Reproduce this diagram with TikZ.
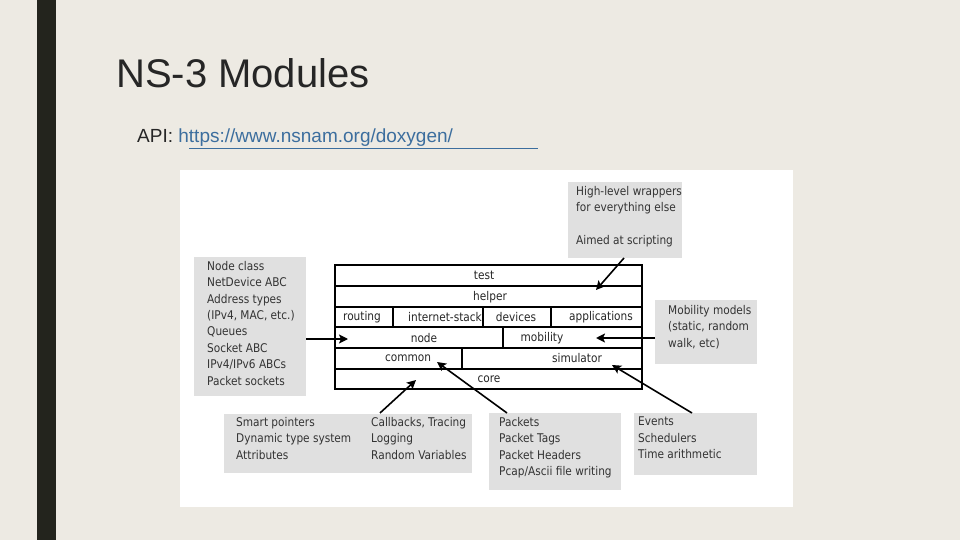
\documentclass[tikz,border=0pt]{standalone}
\usepackage{fontspec}
\setmainfont{Liberation Sans}
\newfontfamily\djvfont[FakeStretch=0.88]{DejaVu Sans}
\usetikzlibrary{arrows.meta}
\definecolor{slide}{HTML}{EDEAE3}
\definecolor{bar}{HTML}{23241D}
\definecolor{gbox}{HTML}{E0E0E0}
\definecolor{link}{HTML}{3C6E9E}
\begin{document}
\begin{tikzpicture}[x=1pt,y=-1pt,
  gray/.style={fill=gbox,draw=none},
  txt/.style={font=\djvfont\fontsize{12}{16.4}\selectfont,align=left,anchor=north west,inner sep=0pt,text=black!80},
  lbl/.style={font=\djvfont\fontsize{12}{13}\selectfont,inner sep=0pt,text=black!85},
  arr/.style={line width=1.6pt,-{Stealth[length=9pt,width=9pt,inset=2pt]}}]
\useasboundingbox (0,0) rectangle (960,540);
\fill[slide] (0,0) rectangle (960,540);
\fill[bar] (37,0) rectangle (56,540);
\node[anchor=west,font=\fontsize{40}{44}\selectfont,text=black!85,inner sep=0pt] (title) at (116,73) {NS-3 Modules};
\node[anchor=west,font=\fontsize{19}{22}\selectfont,text=black!85,inner sep=0pt] (api) at (137,138) {API: \textcolor{link}{https://www.nsnam.org/doxygen/}};
\draw[link,line width=0.9pt] (189,148) -- (538,148);
\fill[white] (180,170) rectangle (793,507);
% gray boxes
\fill[gray] (194,257) rectangle (306,396);
\node[txt] (lt) at (207,261) {Node class\\NetDevice ABC\\Address types\\(IPv4, MAC, etc.)\\Queues\\Socket ABC\\IPv4/IPv6 ABCs\\Packet sockets};
\fill[gray] (568,182) rectangle (682,258);
\node[txt] (hl) at (576,186) {High-level wrappers\\for everything else\\[16.4pt]Aimed at scripting};
\fill[gray] (655,300) rectangle (757,364);
\node[txt] (mb) at (668,305) {Mobility models\\(static, random\\walk, etc)};
\fill[gray] (224,414) rectangle (472,473);
\node[txt] (sp) at (236,417) {Smart pointers\\Dynamic type system\\Attributes};
\node[txt] (cb) at (371,417) {Callbacks, Tracing\\Logging\\Random Variables};
\fill[gray] (489,413) rectangle (621,490);
\node[txt] (pk) at (499,417) {Packets\\Packet Tags\\Packet Headers\\Pcap/Ascii file writing};
\fill[gray] (634,413) rectangle (757,475);
\node[txt] (ev) at (638,417) {Events\\Schedulers\\Time arithmetic};
% stack
\begin{scope}[line width=1.4pt]
\draw (335,265) rectangle (642,389);
\foreach \y in {286,307,327,348,369} \draw (335,\y) -- (642,\y);
\draw (393,307) -- (393,327);
\draw (483,307) -- (483,327);
\draw (551,307) -- (551,327);
\draw (503,327) -- (503,348);
\draw (462,348) -- (462,369);
\end{scope}
\node[lbl] (test) at (484,275) {test};
\node[lbl] (helper) at (490,297) {helper};
\node[lbl] (routing) at (362,317) {routing};
\begin{scope}
\clip (393,307) rectangle (482,327);
\node[lbl,anchor=west] (inet) at (408,317) {internet-stack};
\end{scope}
\node[lbl] (devices) at (516,317) {devices};
\node[lbl] (apps) at (601,317) {applications};
\node[lbl] (nodebox) at (424,338) {node};
\node[lbl] (mobility) at (542,338) {mobility};
\node[lbl] (common) at (408,358) {common};
\node[lbl] (sim) at (577,358) {simulator};
\node[lbl] (core) at (489,379) {core};
% arrows
\coordinate (a1) at (306,339); \coordinate (b1) at (348,339);
\coordinate (a2) at (655,338); \coordinate (b2) at (596,338);
\coordinate (a3) at (624,258); \coordinate (b3) at (596,290);
\coordinate (a4) at (380,413); \coordinate (b4) at (416,380);
\coordinate (a5) at (507,413); \coordinate (b5) at (437,362);
\coordinate (a6) at (692,413); \coordinate (b6) at (612,365);
\foreach \i in {1,...,6} \draw[arr] (a\i) -- (b\i);
\end{tikzpicture}
\end{document}
